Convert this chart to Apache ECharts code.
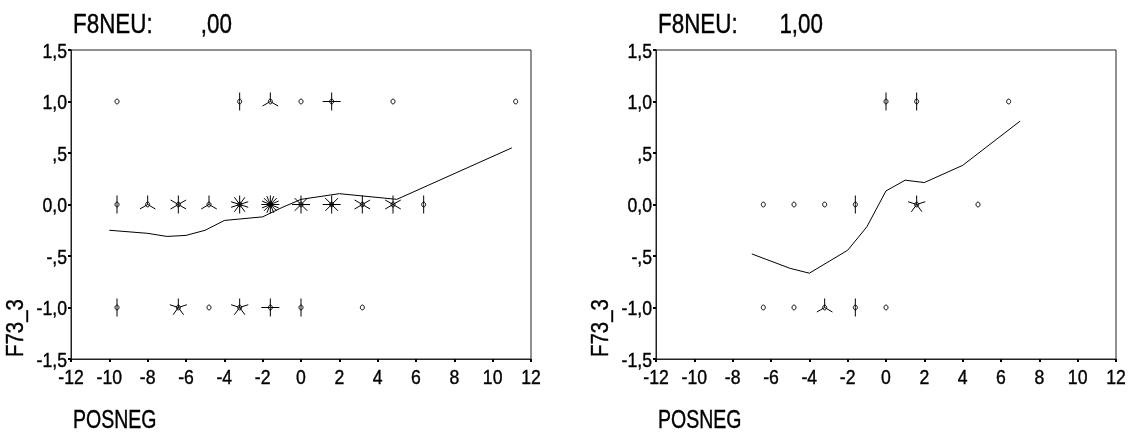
<!DOCTYPE html>
<html>
<head>
<meta charset="utf-8">
<script src="https://cdn.jsdelivr.net/npm/echarts@6/dist/echarts.min.js"></script>
<style>
html,body{margin:0;padding:0;background:#fff;}
#chart{width:1128px;height:434px;}
</style>
</head>
<body>
<div id="chart"></div>
<script>
// ---------- data ----------
// Left panel (F8NEU = ,00): sunflower points  [x, y, count]
const leftX     = [-9.6, -3.2, -1.6, 0, 1.6, 4.8, 11.2,
                   -9.6, -8.0, -6.4, -4.8, -3.2, -1.6, 0, 1.6, 3.2, 4.8, 6.4,
                   -9.6, -6.4, -4.8, -3.2, -1.6, 0, 3.2];
const leftY     = [1, 1, 1, 1, 1, 1, 1,
                   0, 0, 0, 0, 0, 0, 0, 0, 0, 0, 0,
                   -1, -1, -1, -1, -1, -1, -1];
const leftCount = [1, 2, 3, 1, 4, 1, 1,
                   2, 3, 6, 3, 10, 16, 8, 8, 6, 6, 2,
                   2, 5, 1, 5, 4, 2, 1];
// Left panel loess fit line
const leftLoessX = [-10, -8, -7, -6, -5, -4, -2, -1, 0, 2, 5, 11];
const leftLoessY = [-0.25, -0.28, -0.31, -0.30, -0.25, -0.155, -0.12, -0.03, 0.05, 0.105, 0.05, 0.55];

// Right panel (F8NEU = 1,00)
const rightX     = [0, 1.6, 6.4,
                    -6.4, -4.8, -3.2, -1.6, 1.6, 4.8,
                    -6.4, -4.8, -3.2, -1.6, 0];
const rightY     = [1, 1, 1,
                    0, 0, 0, 0, 0, 0,
                    -1, -1, -1, -1, -1];
const rightCount = [2, 2, 1,
                    1, 1, 1, 2, 5, 1,
                    1, 1, 3, 2, 1];
const rightLoessX = [-7, -5, -4, -2, -1, 0, 1, 2, 4, 7];
const rightLoessY = [-0.48, -0.62, -0.667, -0.444, -0.217, 0.132, 0.236, 0.213, 0.38, 0.81];

// Axis ticks / labels
const xTickValues = [-12, -10, -8, -6, -4, -2, 0, 2, 4, 6, 8, 10, 12];
const xTickLabels = ['-12', '-10', '-8', '-6', '-4', '-2', '0', '2', '4', '6', '8', '10', '12'];
const yTickValues = [-1.5, -1.0, -0.5, 0, 0.5, 1.0, 1.5];
const yTickLabels = ['-1,5', '-1,0', '-,5', '0,0', ',5', '1,0', '1,5'];
const panelTitles = ['F8NEU:', 'F8NEU:'];
const panelValues = [',00', '1,00'];
const xAxisName = 'POSNEG';
const yAxisName = 'F73_3';

// ---------- chart ----------
const FONT = '"Liberation Sans", Arial, sans-serif';

function zipPts(xs, ys, cs) {
  return xs.map((x, i) => cs ? [x, ys[i], cs[i]] : [x, ys[i]]);
}

function sunflower(params, api) {
  const c = api.coord([api.value(0), api.value(1)]);
  const n = api.value(2);
  const L = 9;
  const children = [{
    type: 'ellipse',
    shape: { cx: c[0], cy: c[1], rx: 2, ry: 2.4 },
    style: { fill: 'none', stroke: '#000', lineWidth: 1 }
  }];
  if (n >= 2) {
    for (let k = 0; k < n; k++) {
      const a = -Math.PI / 2 + k * 2 * Math.PI / n;
      children.push({
        type: 'line',
        shape: { x1: c[0], y1: c[1], x2: c[0] + L * Math.cos(a), y2: c[1] + L * Math.sin(a) },
        style: { stroke: '#000', lineWidth: 1 }
      });
    }
  }
  return { type: 'group', children: children };
}

const grids = [
  { left: 71, top: 50, width: 460, height: 309 },
  { left: 656, top: 50, width: 460, height: 309 }
];

function xAx(i) {
  return {
    type: 'value', gridIndex: i, min: -12, max: 12, interval: 2,
    axisLine: { show: true, onZero: false, lineStyle: { color: '#222', width: 1 } },
    axisTick: { show: true, length: 3, inside: false, lineStyle: { color: '#000', width: 2 } },
    axisLabel: { show: false },
    splitLine: { show: false }
  };
}
function yAx(i) {
  return {
    type: 'value', gridIndex: i, min: -1.5, max: 1.5, interval: 0.5,
    axisLine: { show: true, onZero: false, lineStyle: { color: '#222', width: 1 } },
    axisTick: { show: true, length: 3, lineStyle: { color: '#000', width: 2 } },
    axisLabel: { show: false },
    splitLine: { show: false }
  };
}

function txt(x, y, s, size, align, sx, rot) {
  return {
    type: 'text', x: x, y: y, scaleX: sx, rotation: rot || 0,
    style: { text: s, font: size + 'px ' + FONT, fill: '#000', stroke: '#000', lineWidth: 0.4,
             textAlign: align, textVerticalAlign: 'middle' }
  };
}

const textEls = [];
const titleX = [73, 658];
const valueRight = [232, 823];
const yNameX = [16, 601];
for (let i = 0; i < 2; i++) {
  textEls.push(txt(titleX[i], 25, panelTitles[i], 28, 'left', 0.8));
  textEls.push(txt(valueRight[i], 25, panelValues[i], 28, 'right', 0.8));
  textEls.push(txt(titleX[i], 421, xAxisName, 25, 'left', 0.78));
  textEls.push(txt(yNameX[i], 357, yAxisName, 24, 'left', 0.85, Math.PI / 2));
}

const option = {
  animation: false,
  backgroundColor: '#fff',
  grid: grids.map(g => Object.assign({ show: true, borderColor: '#222', borderWidth: 1, backgroundColor: 'transparent' }, g)),
  xAxis: [xAx(0), xAx(1)],
  yAxis: [yAx(0), yAx(1)],
  series: [
    { type: 'custom', xAxisIndex: 0, yAxisIndex: 0, renderItem: sunflower, data: zipPts(leftX, leftY, leftCount), z: 3 },
    { type: 'line', xAxisIndex: 0, yAxisIndex: 0, data: zipPts(leftLoessX, leftLoessY), symbol: 'none', lineStyle: { color: '#000', width: 1 }, z: 2 },
    { type: 'custom', xAxisIndex: 1, yAxisIndex: 1, renderItem: sunflower, data: zipPts(rightX, rightY, rightCount), z: 3 },
    { type: 'line', xAxisIndex: 1, yAxisIndex: 1, data: zipPts(rightLoessX, rightLoessY), symbol: 'none', lineStyle: { color: '#000', width: 1 }, z: 2 }
  ]
};

const chart = echarts.init(document.getElementById('chart'), null, { renderer: 'canvas' });
chart.setOption(option);

// Tick labels placed through the axes' own scales
for (let i = 0; i < 2; i++) {
  const finder = { xAxisIndex: i, yAxisIndex: i };
  xTickValues.forEach((v, k) => {
    const p = chart.convertToPixel(finder, [v, -1.5]);
    textEls.push(txt(p[0], p[1] + 19, xTickLabels[k], 21, 'center', 0.84));
  });
  yTickValues.forEach((v, k) => {
    const p = chart.convertToPixel(finder, [-12, v]);
    textEls.push(txt(p[0] - 4, p[1] + 2, yTickLabels[k], 21, 'right', 0.84));
  });
}
chart.setOption({ graphic: textEls });
</script>
</body>
</html>
